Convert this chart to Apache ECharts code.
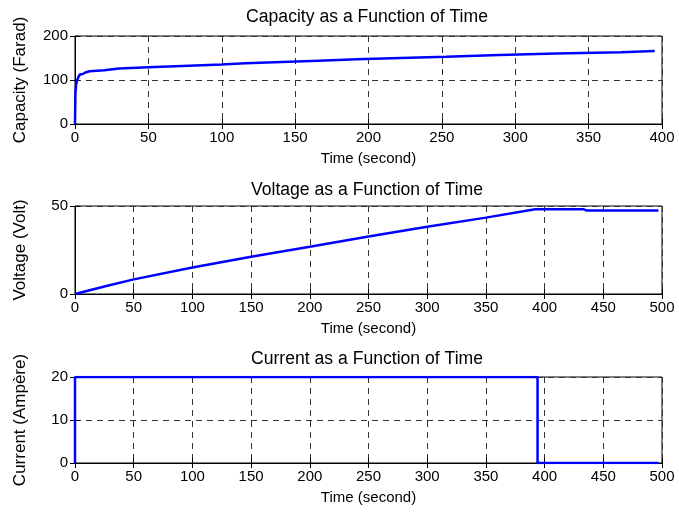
<!DOCTYPE html>
<html><head><meta charset="utf-8">
<script src="https://cdn.jsdelivr.net/npm/echarts@6/dist/echarts.min.js"></script>
<style>html,body{margin:0;padding:0;background:#fff}#c{width:679px;height:515px}</style>
</head><body><div id="c"></div>
<script>
// Capacity (Farad) vs time (s): staircase points (time of step, new level)
var capTime  = [0, 0.3, 0.8, 1.5, 2.5, 3.5, 5, 7, 10, 20, 30, 50, 73, 100, 116, 141, 166, 192, 222, 253, 289, 328, 372, 395];
var capValue = [0, 72, 90, 100, 108, 113, 117, 120, 122, 126, 129, 132, 135, 138, 141, 144, 147, 150, 153, 157, 160, 163, 166, 166];
// Voltage (Volt) vs time (s)
var voltTime  = [0, 25, 50, 100, 150, 200, 250, 300, 350, 392, 433, 436, 497];
var voltValue = [0, 4.3, 8.3, 15, 21.2, 26.9, 32.7, 38.2, 43.4, 48.2, 48.2, 47.4, 47.4];
// Current (Ampere) vs time (s)
var curTime  = [0, 0, 394, 394, 497];
var curValue = [0, 20, 20, 0, 0];

var titles = ['Capacity as a Function of Time', 'Voltage as a Function of Time', 'Current as a Function of Time'];
var yNames = ['Capacity (Farad)', 'Voltage (Volt)', 'Current (Ampère)'];
var xName = 'Time (second)';

function zip(a, b) { return a.map(function (v, i) { return [v, b[i]]; }); }

var FONT = '"Liberation Sans", Arial, sans-serif';
var grids = [
  {left: 75, top: 36, width: 587, height: 88},
  {left: 75, top: 206, width: 587, height: 88},
  {left: 75, top: 377, width: 587, height: 86}
];
var xRanges = [[0, 400], [0, 500], [0, 500]];
var yRanges = [[0, 200, 100], [0, 50, 50], [0, 20, 10]];
var titleTops = [3, 176, 345];

var xAxes = [], yAxes = [];
grids.forEach(function (g, i) {
  g.show = true; g.borderColor = '#000'; g.borderWidth = 1; g.backgroundColor = '#fff';
  xAxes.push({
    type: 'value', gridIndex: i, min: xRanges[i][0], max: xRanges[i][1], interval: 50,
    name: xName, nameLocation: 'middle', nameGap: 27,
    nameTextStyle: {fontFamily: FONT, fontSize: 15, color: '#000'},
    axisLine: {show: true, lineStyle: {color: '#000', width: 1}},
    axisTick: {show: true, inside: true, length: 5, lineStyle: {color: '#000'}},
    axisLabel: {fontFamily: FONT, fontSize: 15, color: '#000', margin: 6},
    splitLine: {show: true, lineStyle: {type: [6, 5], color: '#333', width: 1}}
  });
  xAxes.push({
    type: 'value', gridIndex: i, position: 'top', min: xRanges[i][0], max: xRanges[i][1], interval: 50,
    axisLine: {show: false},
    axisTick: {show: true, inside: true, length: 5, lineStyle: {color: '#000'}},
    axisLabel: {show: false}, splitLine: {show: false}
  });
  yAxes.push({
    type: 'value', gridIndex: i, min: yRanges[i][0], max: yRanges[i][1], interval: yRanges[i][2],
    name: yNames[i], nameLocation: 'middle', nameRotate: 90, nameGap: 46,
    nameTextStyle: {fontFamily: FONT, fontSize: 17, color: '#000'},
    axisLine: {show: true, lineStyle: {color: '#000', width: 1}},
    axisTick: {show: true, inside: true, length: 5, lineStyle: {color: '#000'}},
    axisLabel: {fontFamily: FONT, fontSize: 15, color: '#000', margin: 7},
    splitLine: {show: true, lineStyle: {type: [6, 5], color: '#333', width: 1}}
  });
  yAxes.push({
    type: 'value', gridIndex: i, position: 'right', min: yRanges[i][0], max: yRanges[i][1], interval: yRanges[i][2],
    axisLine: {show: false},
    axisTick: {show: true, inside: true, length: 5, lineStyle: {color: '#000'}},
    axisLabel: {show: false}, splitLine: {show: false}
  });
});

var chart = echarts.init(document.getElementById('c'), null, {renderer: 'canvas'});
chart.setOption({
  animation: false,
  backgroundColor: '#fff',
  title: titles.map(function (t, i) {
    return {text: t, left: 362, top: titleTops[i], textAlign: 'center',
      textStyle: {fontFamily: FONT, fontSize: 17.6, fontWeight: 'normal', color: '#000'}};
  }),
  grid: grids,
  xAxis: xAxes,
  yAxis: yAxes,
  series: [
    {type: 'line', xAxisIndex: 0, yAxisIndex: 0, data: zip(capTime, capValue), step: 'end',
      showSymbol: false, clip: true, lineStyle: {color: '#0000ff', width: 2.5}},
    {type: 'line', xAxisIndex: 2, yAxisIndex: 2, data: zip(voltTime, voltValue),
      showSymbol: false, clip: true, lineStyle: {color: '#0000ff', width: 2.5}},
    {type: 'line', xAxisIndex: 4, yAxisIndex: 4, data: zip(curTime, curValue),
      showSymbol: false, clip: true, lineStyle: {color: '#0000ff', width: 2.5}}
  ]
});
</script></body></html>
